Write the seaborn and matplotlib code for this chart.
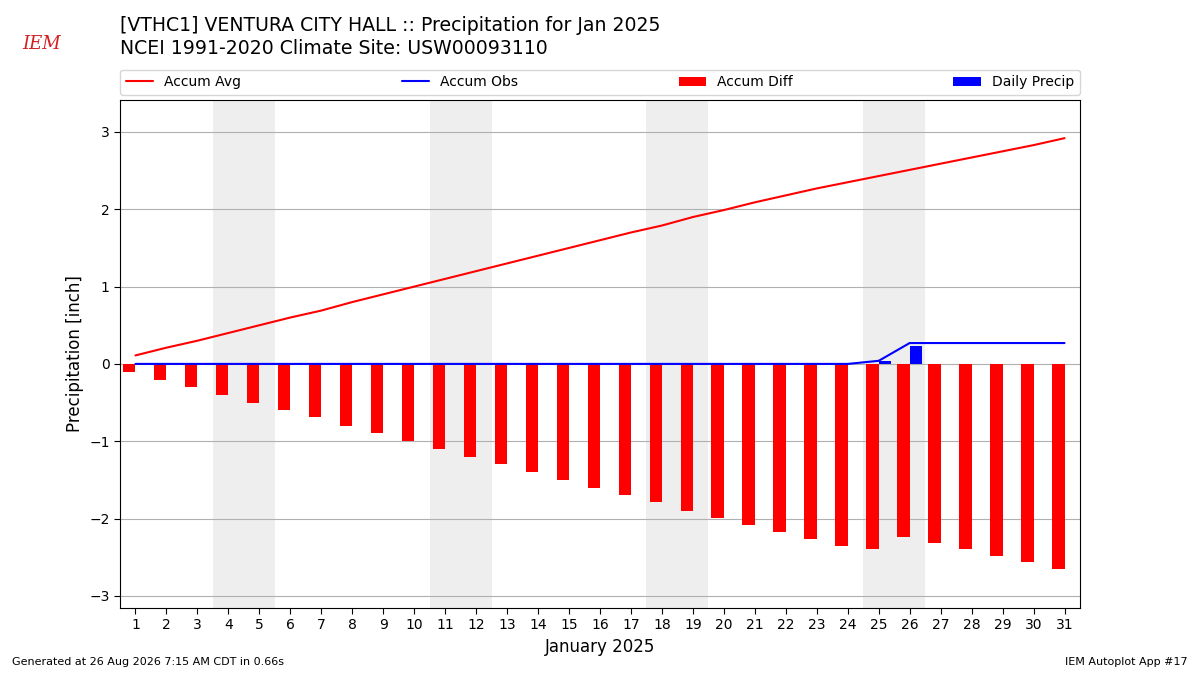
import numpy as np
import pandas as pd
import seaborn as sns
import matplotlib.pyplot as plt

days = list(range(1, 32))
accum_avg = [0.11, 0.21, 0.30, 0.40, 0.50, 0.60, 0.69, 0.80, 0.90, 1.00,
             1.10, 1.20, 1.30, 1.40, 1.50, 1.60, 1.70, 1.79, 1.90, 1.99,
             2.09, 2.18, 2.27, 2.35, 2.43, 2.51, 2.59, 2.67, 2.75, 2.83, 2.92]
daily_precip = [0, 0, 0, 0, 0, 0, 0, 0, 0, 0, 0, 0, 0, 0, 0, 0, 0, 0, 0, 0,
                0, 0, 0, 0, 0.04, 0.23, 0, 0, 0, 0, 0]
weekends = [4, 11, 18, 25]

accum_obs = np.cumsum(daily_precip)
accum_diff = np.array(accum_obs) - np.array(accum_avg)
df = pd.DataFrame({'day': days, 'avg': accum_avg, 'obs': accum_obs,
                   'diff': accum_diff, 'precip': daily_precip})

sns.set_style('white')
plt.rcParams.update({'text.color': 'black', 'axes.labelcolor': 'black',
                     'xtick.color': 'black', 'ytick.color': 'black'})
fig = plt.figure(figsize=(12, 6.75), dpi=100)
ax = fig.add_axes([0.1, 0.0993, 0.8, 0.7527])

for w in weekends:
    ax.axvspan(w - 0.5, w + 1.5, color='#eeeeee', lw=0, zorder=0)

sns.lineplot(data=df, x='day', y='avg', color='r', label='Accum Avg', ax=ax, zorder=3)
sns.lineplot(data=df, x='day', y='obs', color='b', label='Accum Obs', ax=ax, zorder=3)
ax.bar(df['day'], df['diff'], width=-0.4, align='edge', color='r', linewidth=0,
       label='Accum Diff', zorder=2)
ax.bar(df['day'], df['precip'], width=0.4, align='edge', color='b', linewidth=0,
       label='Daily Precip', zorder=2)

ax.set_xlim(0.5, 31.5)
ax.set_ylim(-3.157, 3.415)
ax.set_xticks(days)
ax.set_yticks([-3, -2, -1, 0, 1, 2, 3])
ax.set_yticklabels(['\u22123', '\u22122', '\u22121', '0', '1', '2', '3'])
ax.tick_params(axis='both', labelsize=10, length=4, direction='out', left=True, bottom=True)
ax.yaxis.grid(True, color='#b0b0b0', linewidth=0.8)
ax.set_axisbelow(True)
for s in ax.spines.values():
    s.set_color('black')
ax.set_xlabel('January 2025', fontsize=12)
ax.set_ylabel('Precipitation [inch]', fontsize=12)
ax.legend(loc='lower left', bbox_to_anchor=(0, 1.01, 1, 0.05), ncol=4, mode='expand',
          fontsize=10, borderaxespad=0, frameon=True)

fig.text(0.1, 0.962, '[VTHC1] VENTURA CITY HALL :: Precipitation for Jan 2025', fontsize=13.6, va='center')
fig.text(0.1, 0.928, 'NCEI 1991-2020 Climate Site: USW00093110', fontsize=13.6, va='center')
fig.text(0.035, 0.935, 'IEM', fontsize=13, color='#d42020', family='DejaVu Serif',
         style='italic', ha='center', va='center')
fig.text(0.01, 0.015, 'Generated at 26 Aug 2026 7:15 AM CDT in 0.66s', fontsize=8)
fig.text(0.99, 0.015, 'IEM Autoplot App #17', fontsize=8, ha='right')

fig.savefig('out.png', dpi=100)
